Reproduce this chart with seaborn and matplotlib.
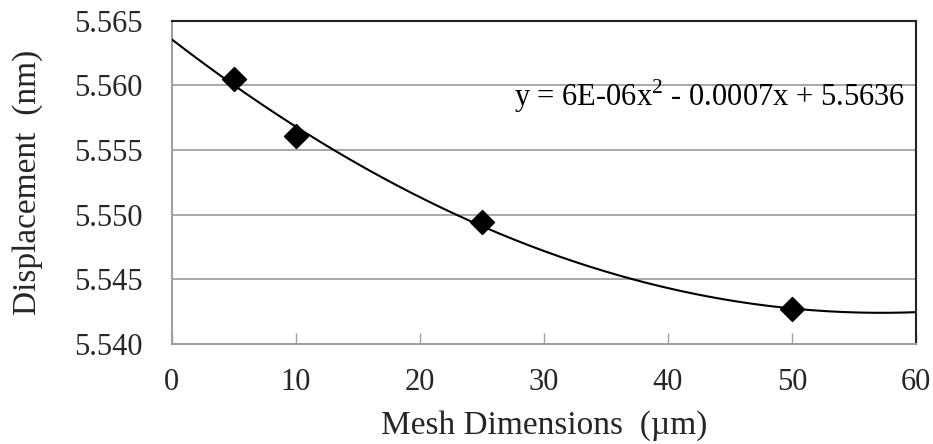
import numpy as np
import pandas as pd
import matplotlib
matplotlib.use("Agg")
import matplotlib.pyplot as plt
import seaborn as sns

# Data
mesh_um = [5, 10, 25, 50]
displacement_nm = [5.5605, 5.5561, 5.5494, 5.5427]
x_ticks = [0, 10, 20, 30, 40, 50, 60]
y_ticks = [5.540, 5.545, 5.550, 5.555, 5.560, 5.565]
equation_label = "y = 6E-06x$^{2}$ - 0.0007x + 5.5636"

sns.set_theme(style="white")
plt.rcParams['font.family'] = ['Liberation Serif', 'DejaVu Serif']
plt.rcParams['mathtext.fontset'] = 'custom'
plt.rcParams['mathtext.rm'] = 'Liberation Serif'

fig = plt.figure(figsize=(9.33, 4.44), dpi=100)
ax = fig.add_axes([0.184, 0.2252, 0.7978, 0.7282])

df = pd.DataFrame({"x": mesh_um, "y": displacement_nm})

# Polynomial (order 2) trendline fitted to the data, extended over the axis range
coef = np.polyfit(df["x"], df["y"], 2)
xs = np.linspace(0, 60, 300)
trend = pd.DataFrame({"x": xs, "y": np.polyval(coef, xs)})

sns.lineplot(data=trend, x="x", y="y", ax=ax, color="black", linewidth=1.5, zorder=3)
sns.scatterplot(data=df, x="x", y="y", ax=ax, marker="D", s=150, color="black",
                edgecolor="black", zorder=4)

ax.set_xlim(0, 60)
ax.set_ylim(5.540, 5.565)
ax.set_xticks(x_ticks)
ax.set_yticks(y_ticks)
ax.set_xticklabels([str(t) for t in x_ticks])
ax.set_yticklabels([f"{t:.3f}" for t in y_ticks])

ax.yaxis.grid(True, color="#999999", linewidth=1.2)
ax.xaxis.grid(False)
ax.set_axisbelow(True)

for side in ["left", "bottom"]:
    ax.spines[side].set_color("#a0a0a0")
    ax.spines[side].set_linewidth(1.5)
for side in ["top", "right"]:
    ax.spines[side].set_color("#222222")
    ax.spines[side].set_linewidth(1.5)
    ax.spines[side].set_visible(True)

ax.tick_params(axis="x", direction="in", length=8, width=1, color="#a0a0a0",
               labelsize=22, pad=17, bottom=True)
ax.tick_params(axis="y", length=0, labelsize=22, pad=21, left=False)

ax.set_xlabel("Mesh Dimensions  (\u00b5m)", fontsize=24, labelpad=10)
ax.set_ylabel("Displacement  (nm)", fontsize=24, labelpad=22)

ax.text(0.985, 0.765, equation_label, transform=ax.transAxes, ha="right", va="center",
        fontsize=22, color="black")

fig.savefig("out.png", dpi=100)
